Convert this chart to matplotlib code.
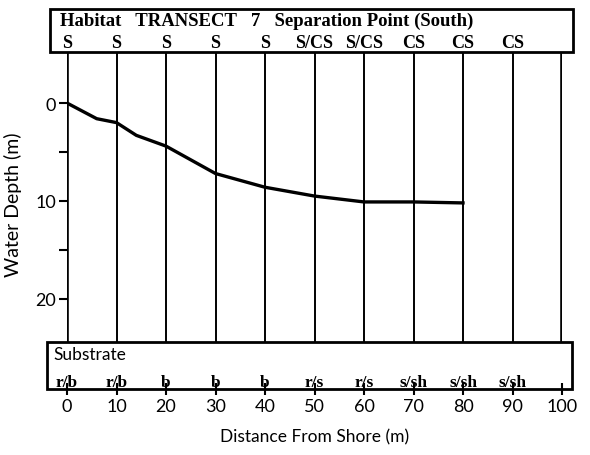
import matplotlib.pyplot as plt
from matplotlib.patches import Rectangle

plt.rcParams['font.family'] = ['Liberation Serif', 'DejaVu Serif']
label_font = ['Lato', 'DejaVu Sans']

# depth profile along the transect
distance = [0, 6, 10, 14, 20, 30, 40, 50, 60, 70, 80]
depth = [0.0, 1.6, 2.0, 3.3, 4.4, 7.2, 8.6, 9.5, 10.1, 10.1, 10.2]

# habitat / substrate codes at each 10 m station
stations = [0, 10, 20, 30, 40, 50, 60, 70, 80, 90]
habitat = ['S', 'S', 'S', 'S', 'S', 'S/CS', 'S/CS', 'CS', 'CS', 'CS']
substrate = ['r/b', 'r/b', 'b', 'b', 'b', 'r/s', 'r/s', 's/sh', 's/sh', 's/sh']
grid_x = [0, 10, 20, 30, 40, 50, 60, 70, 80, 90, 100]

fig = plt.figure(figsize=(5.9, 4.56), dpi=100)
ax = fig.add_axes([67/590, 66/456, 495/590, 380/456])
ax.set_xlim(0, 100)
ax.set_ylim(29.2, -9.6)
for s in ax.spines.values():
    s.set_visible(False)

# vertical station lines between the two boxes
for gx in grid_x:
    lw = 2.6 if gx in (0, 100) else 1.4
    ax.plot([gx, gx], [-5.2, 24.4], color='black', lw=lw, solid_capstyle='butt')

ax.plot(distance, depth, color='black', lw=2.4, solid_joinstyle='round')

# header box and substrate box
ax.add_patch(Rectangle((-3.4, -9.6), 105.6, 4.4, fill=False, lw=2, ec='black', clip_on=False))
ax.add_patch(Rectangle((-4.0, 24.4), 106.0, 4.8, fill=False, lw=2, ec='black', clip_on=False))

ax.text(-1.5, -8.4, 'Habitat   TRANSECT   7   Separation Point (South)', fontsize=13.5,
        fontweight='bold', va='center', ha='left')
for x, lab in zip(stations, habitat):
    ax.text(x, -6.2, lab, fontsize=13, fontweight='bold', ha='center', va='center')

ax.text(-2.8, 25.6, 'Substrate', fontsize=12.5, va='center', ha='left', family=label_font)
for x, lab in zip(stations, substrate):
    ax.text(x, 28.9, lab, fontsize=12.5, fontweight='bold', ha='center', va='baseline')

ax.set_xticks(grid_x)
ax.tick_params(axis='x', direction='inout', length=9, width=1.5, labelsize=13, pad=2)
ax.set_yticks([0, 5, 10, 15, 20])
ax.set_yticklabels(['0', '', '10', '', '20'])
ax.tick_params(axis='y', direction='out', length=6, width=1.5, labelsize=13, pad=2)
for t in ax.get_xticklabels() + ax.get_yticklabels():
    t.set_family(label_font)

ax.set_xlabel('Distance From Shore (m)', fontsize=12.5, labelpad=10, family=label_font)
ax.set_ylabel('Water Depth (m)', fontsize=14, family=label_font)
ax.yaxis.set_label_coords(-0.09, 0.487)

fig.savefig('out.png', dpi=100)
